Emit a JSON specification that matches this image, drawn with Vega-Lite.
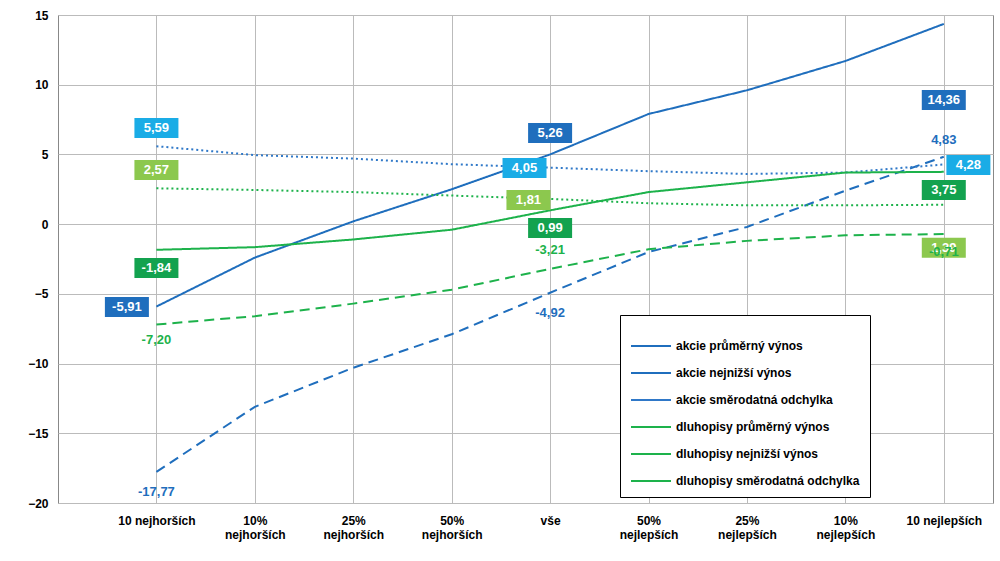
{
"$schema":"https://vega.github.io/schema/vega-lite/v6.json",
"width":935,"height":488,
"autosize":{"type":"none"},
"padding":{"left":58,"top":15,"right":7,"bottom":58},
"background":"white",
"config":{"font":"Liberation Sans","view":{"stroke":"#888"}},
"resolve":{"scale":{"color":"independent"}},
"datasets":{
"lines":[
{"s":"akcie průměrný výnos","i":0,"v":-5.91},{"s":"akcie průměrný výnos","i":1,"v":-2.4},{"s":"akcie průměrný výnos","i":2,"v":0.2},{"s":"akcie průměrný výnos","i":3,"v":2.5},{"s":"akcie průměrný výnos","i":4,"v":5.0},{"s":"akcie průměrný výnos","i":5,"v":7.9},{"s":"akcie průměrný výnos","i":6,"v":9.6},{"s":"akcie průměrný výnos","i":7,"v":11.7},{"s":"akcie průměrný výnos","i":8,"v":14.36},
{"s":"akcie nejnižší výnos","i":0,"v":-17.77},{"s":"akcie nejnižší výnos","i":1,"v":-13.1},{"s":"akcie nejnižší výnos","i":2,"v":-10.3},{"s":"akcie nejnižší výnos","i":3,"v":-7.9},{"s":"akcie nejnižší výnos","i":4,"v":-4.92},{"s":"akcie nejnižší výnos","i":5,"v":-2.0},{"s":"akcie nejnižší výnos","i":6,"v":-0.2},{"s":"akcie nejnižší výnos","i":7,"v":2.4},{"s":"akcie nejnižší výnos","i":8,"v":4.83},
{"s":"akcie směrodatná odchylka","i":0,"v":5.59},{"s":"akcie směrodatná odchylka","i":1,"v":4.95},{"s":"akcie směrodatná odchylka","i":2,"v":4.7},{"s":"akcie směrodatná odchylka","i":3,"v":4.3},{"s":"akcie směrodatná odchylka","i":4,"v":4.05},{"s":"akcie směrodatná odchylka","i":5,"v":3.8},{"s":"akcie směrodatná odchylka","i":6,"v":3.6},{"s":"akcie směrodatná odchylka","i":7,"v":3.7},{"s":"akcie směrodatná odchylka","i":8,"v":4.28},
{"s":"dluhopisy průměrný výnos","i":0,"v":-1.84},{"s":"dluhopisy průměrný výnos","i":1,"v":-1.65},{"s":"dluhopisy průměrný výnos","i":2,"v":-1.1},{"s":"dluhopisy průměrný výnos","i":3,"v":-0.4},{"s":"dluhopisy průměrný výnos","i":4,"v":0.99},{"s":"dluhopisy průměrný výnos","i":5,"v":2.3},{"s":"dluhopisy průměrný výnos","i":6,"v":3.0},{"s":"dluhopisy průměrný výnos","i":7,"v":3.7},{"s":"dluhopisy průměrný výnos","i":8,"v":3.75},
{"s":"dluhopisy nejnižší výnos","i":0,"v":-7.2},{"s":"dluhopisy nejnižší výnos","i":1,"v":-6.6},{"s":"dluhopisy nejnižší výnos","i":2,"v":-5.7},{"s":"dluhopisy nejnižší výnos","i":3,"v":-4.7},{"s":"dluhopisy nejnižší výnos","i":4,"v":-3.21},{"s":"dluhopisy nejnižší výnos","i":5,"v":-1.8},{"s":"dluhopisy nejnižší výnos","i":6,"v":-1.2},{"s":"dluhopisy nejnižší výnos","i":7,"v":-0.8},{"s":"dluhopisy nejnižší výnos","i":8,"v":-0.71},
{"s":"dluhopisy směrodatná odchylka","i":0,"v":2.57},{"s":"dluhopisy směrodatná odchylka","i":1,"v":2.45},{"s":"dluhopisy směrodatná odchylka","i":2,"v":2.3},{"s":"dluhopisy směrodatná odchylka","i":3,"v":2.05},{"s":"dluhopisy směrodatná odchylka","i":4,"v":1.81},{"s":"dluhopisy směrodatná odchylka","i":5,"v":1.5},{"s":"dluhopisy směrodatná odchylka","i":6,"v":1.35},{"s":"dluhopisy směrodatná odchylka","i":7,"v":1.35},{"s":"dluhopisy směrodatná odchylka","i":8,"v":1.39}
],
"boxes":[
{"t":"-5,91","lx":-0.3,"ly":-5.95,"c":"a"},{"t":"5,26","lx":4,"ly":6.54,"c":"a"},{"t":"14,36","lx":8,"ly":8.9,"c":"a"},
{"t":"5,59","lx":0,"ly":6.9,"c":"b"},{"t":"4,05","lx":3.74,"ly":4.02,"c":"b"},{"t":"4,28","lx":8.25,"ly":4.24,"c":"b"},
{"t":"-1,84","lx":0,"ly":-3.15,"c":"c"},{"t":"0,99","lx":4,"ly":-0.28,"c":"c"},{"t":"3,75","lx":8,"ly":2.45,"c":"c"},
{"t":"2,57","lx":0,"ly":3.88,"c":"d"},{"t":"1,81","lx":3.78,"ly":1.73,"c":"d"},{"t":"1,39","lx":8,"ly":-1.7,"c":"d"}
],
"plain":[
{"t":"-17,77","lx":0,"ly":-19.2,"c":"a"},{"t":"-4,92","lx":4,"ly":-6.4,"c":"a"},{"t":"4,83","lx":8,"ly":6.03,"c":"a"},
{"t":"-7,20","lx":0,"ly":-8.3,"c":"g"},{"t":"-3,21","lx":4,"ly":-1.86,"c":"g"},{"t":"-0,71","lx":8,"ly":-2.0,"c":"g"}
]},
"layer":[
{"data":{"name":"lines"},
"mark":{"type":"line","strokeWidth":2},
"encoding":{
"x":{"field":"i","type":"quantitative","scale":{"domain":[-1,8.5],"nice":false,"zero":false},
"axis":{"values":[0,1,2,3,4,5,6,7,8],"title":null,"grid":true,"gridColor":"#bbb","ticks":false,"domain":false,"labelColor":"black","labelFontWeight":"bold","labelFontSize":12,"labelPadding":12,
"labelExpr":"[['10 nejhorších'],['10%','nejhorších'],['25%','nejhorších'],['50%','nejhorších'],['vše'],['50%','nejlepších'],['25%','nejlepších'],['10%','nejlepších'],['10 nejlepších']][datum.value]"}},
"y":{"field":"v","type":"quantitative","scale":{"domain":[-20,15],"nice":false},
"axis":{"values":[-20,-15,-10,-5,0,5,10,15],"title":null,"gridColor":"#bbb","ticks":false,"domain":false,"labelColor":"black","labelFontWeight":"bold","labelFontSize":12,"labelPadding":10}},
"color":{"field":"s","type":"nominal","scale":{"domain":["akcie průměrný výnos","akcie nejnižší výnos","akcie směrodatná odchylka","dluhopisy průměrný výnos","dluhopisy nejnižší výnos","dluhopisy směrodatná odchylka"],"range":["#1f6ebd","#1f6ebd","#2f78c8","#1db24b","#1db24b","#1db24b"]},
"legend":{"title":null,"orient":"none","legendX":562,"legendY":300,"symbolType":"stroke","symbolSize":1600,"symbolStrokeWidth":2,"labelFontWeight":"bold","labelFontSize":12,"labelColor":"black","rowPadding":-14,"strokeColor":"black","padding":10,"fillColor":"white","labelLimit":300}},
"strokeDash":{"field":"s","type":"nominal","scale":{"domain":["akcie průměrný výnos","akcie nejnižší výnos","akcie směrodatná odchylka","dluhopisy průměrný výnos","dluhopisy nejnižší výnos","dluhopisy směrodatná odchylka"],"range":[[1,0],[10,6],[2,3],[1,0],[10,6],[2,3]]}}
}},
{"data":{"name":"boxes"},
"mark":{"type":"point","shape":"M-1.1,-0.5H1.1V0.5H-1.1Z","size":1600,"filled":true,"opacity":1},
"encoding":{"x":{"field":"lx","type":"quantitative"},"y":{"field":"ly","type":"quantitative"},
"color":{"field":"c","type":"nominal","scale":{"domain":["a","b","c","d"],"range":["#1f6ebd","#1aace6","#13a24f","#8cc84e"]},"legend":null}}},
{"data":{"name":"boxes"},
"mark":{"type":"text","color":"white","fontWeight":"bold","fontSize":13},
"encoding":{"x":{"field":"lx","type":"quantitative"},"y":{"field":"ly","type":"quantitative"},"text":{"field":"t"}}},
{"data":{"name":"plain"},
"mark":{"type":"text","fontWeight":"bold","fontSize":13},
"encoding":{"x":{"field":"lx","type":"quantitative"},"y":{"field":"ly","type":"quantitative"},"text":{"field":"t"},
"color":{"field":"c","type":"nominal","scale":{"domain":["a","g"],"range":["#1f6ebd","#1db24b"]},"legend":null}}}
]
}
